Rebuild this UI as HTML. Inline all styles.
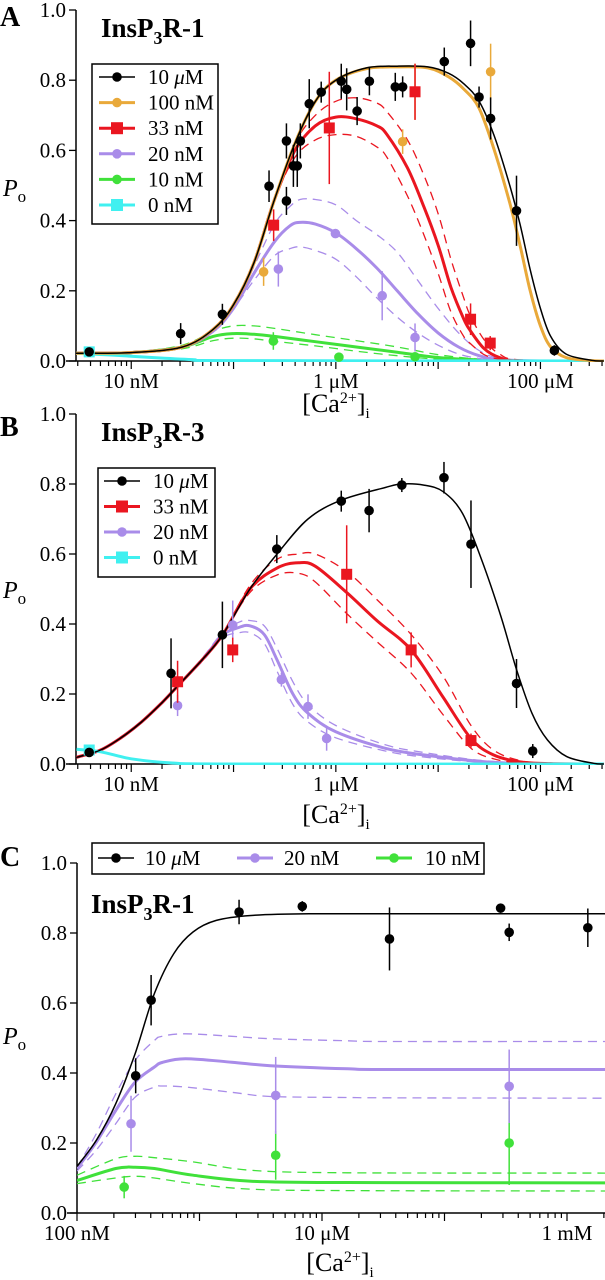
<!DOCTYPE html>
<html><head><meta charset="utf-8">
<style>
html,body{margin:0;padding:0;background:#fff;}
svg{display:block;font-family:"Liberation Serif",serif;}
</style></head>
<body>
<svg id="fig" width="605" height="1280" viewBox="0 0 605 1280" xmlns="http://www.w3.org/2000/svg"></svg>
<script>
// ---------- Panel A data (x = log10 [Ca2+] in M) ----------
const aBlackPtsX=[-8.411,-7.517,-7.109,-6.653,-6.483,-6.483,-6.415,-6.377,-6.347,-6.26,-6.143,-5.947,-5.894,-5.792,-5.672,-5.419,-5.347,-4.94,-4.683,-4.6,-4.487,-4.234,-3.864];
const aBlackPtsY=[0.026,0.078,0.133,0.498,0.456,0.627,0.556,0.556,0.627,0.733,0.766,0.797,0.774,0.712,0.797,0.781,0.781,0.853,0.905,0.752,0.691,0.428,0.030];
const aBlackErr=[0.01,0.03,0.03,0.045,0.04,0.05,0.06,0.06,0.05,0.07,0.03,0.05,0.06,0.04,0.04,0.04,0.03,0.04,0.065,0.03,0.06,0.1,0.015];
const aOrangePtsX=[-6.706,-5.347,-5.226,-4.487];
const aOrangePtsY=[0.254,0.625,0.767,0.824];
const aOrangeErr=[0.04,0.035,0.08,0.08];
const aRedPtsX=[-6.608,-6.064,-5.226,-4.683,-4.491];
const aRedPtsY=[0.387,0.664,0.767,0.119,0.051];
const aRedErr=[0.045,0.16,0.08,0.045,0.02];
const aPurplePtsX=[-6.562,-6.004,-5.547,-5.226];
const aPurplePtsY=[0.262,0.363,0.186,0.067];
const aPurpleErr=[0.05,0.01,0.07,0.04];
const aGreenPtsX=[-6.611,-5.97,-5.226];
const aGreenPtsY=[0.057,0.011,0.012];
const aGreenErr=[0.025,0.01,0.01];
const aCyanPtsX=[-8.411];
const aCyanPtsY=[0.026];

const aBlackFitX=[-8.54,-8.0,-7.5,-7.2,-7.0,-6.8,-6.6,-6.4,-6.2,-6.0,-5.7,-5.4,-5.1,-4.9,-4.75,-4.6,-4.45,-4.3,-4.2,-4.1,-4.0,-3.9,-3.75,-3.5,-3.38];
const aBlackFitY=[0.022,0.024,0.04,0.09,0.16,0.28,0.46,0.62,0.74,0.80,0.835,0.84,0.838,0.82,0.79,0.74,0.64,0.50,0.39,0.26,0.15,0.07,0.02,0.002,0];
const aOrangeFitX=[-8.54,-8.0,-7.5,-7.2,-7.0,-6.8,-6.6,-6.4,-6.2,-6.0,-5.7,-5.4,-5.1,-4.9,-4.75,-4.6,-4.45,-4.3,-4.2,-4.1,-4.0,-3.9,-3.75,-3.5,-3.38];
const aOrangeFitY=[0.022,0.024,0.04,0.09,0.16,0.28,0.46,0.62,0.74,0.80,0.833,0.838,0.835,0.81,0.775,0.72,0.60,0.45,0.33,0.20,0.10,0.04,0.01,0.001,0];
const aRedFitX=[-8.54,-8.0,-7.5,-7.2,-7.0,-6.8,-6.6,-6.4,-6.2,-6.0,-5.8,-5.6,-5.5,-5.3,-5.14,-5.0,-4.875,-4.75,-4.687,-4.55,-4.4,-4.2,-3.38];
const aRedFitY=[0.022,0.024,0.04,0.09,0.16,0.28,0.46,0.60,0.67,0.695,0.69,0.67,0.645,0.55,0.44,0.33,0.21,0.12,0.087,0.035,0.01,0,0];
const aRedHiY=[0.022,0.024,0.04,0.09,0.16,0.28,0.46,0.62,0.70,0.74,0.75,0.735,0.71,0.63,0.53,0.42,0.29,0.18,0.13,0.06,0.02,0.003,0];
const aRedLoY=[0.022,0.024,0.04,0.09,0.16,0.28,0.46,0.58,0.63,0.645,0.64,0.61,0.58,0.47,0.36,0.25,0.14,0.07,0.05,0.018,0.005,0,0];
const aPurpleFitX=[-8.54,-8.0,-7.5,-7.2,-7.0,-6.8,-6.6,-6.45,-6.35,-6.2,-6.0,-5.8,-5.6,-5.4,-5.2,-5.0,-4.8,-4.6,-4.4,-4.0,-3.38];
const aPurpleFitY=[0.022,0.024,0.04,0.085,0.15,0.25,0.34,0.385,0.395,0.39,0.365,0.32,0.265,0.2,0.135,0.08,0.04,0.015,0.004,0,0];
const aPurpleHiY=[0.022,0.024,0.04,0.085,0.15,0.27,0.39,0.44,0.46,0.46,0.445,0.40,0.36,0.31,0.23,0.15,0.08,0.03,0.008,0,0];
const aPurpleLoY=[0.022,0.024,0.04,0.085,0.15,0.23,0.30,0.32,0.325,0.315,0.29,0.24,0.18,0.125,0.08,0.045,0.02,0.007,0.002,0,0];
const aGreenFitX=[-8.54,-8.0,-7.5,-7.2,-7.0,-6.8,-6.6,-6.2,-5.8,-5.4,-5.0,-4.6,-4.2,-3.38];
const aGreenFitY=[0.022,0.024,0.04,0.07,0.078,0.076,0.07,0.055,0.04,0.025,0.01,0.003,0,0];
const aGreenHiY=[0.022,0.025,0.045,0.085,0.10,0.10,0.093,0.075,0.058,0.04,0.018,0.005,0,0];
const aGreenLoY=[0.022,0.023,0.035,0.058,0.065,0.063,0.056,0.043,0.028,0.015,0.005,0.001,0,0];
const aCyanFitX=[-8.54,-8.2,-7.8,-7.4,-7.0,-3.38];
const aCyanFitY=[0.022,0.017,0.01,0.004,0.001,0];

// ---------- Panel B data ----------
const bBlackPtsX=[-8.411,-7.611,-7.109,-6.577,-5.947,-5.675,-5.355,-4.943,-4.679,-4.234,-4.075];
const bBlackPtsY=[0.033,0.259,0.369,0.614,0.751,0.724,0.797,0.818,0.628,0.23,0.037];
const bBlackErr=[0.005,0.1,0.095,0.04,0.03,0.062,0.02,0.045,0.125,0.07,0.02];
const bRedPtsX=[-7.547,-7.008,-5.894,-5.264,-4.679];
const bRedPtsY=[0.235,0.326,0.542,0.326,0.067];
const bRedErr=[0.06,0.035,0.14,0.05,0.02];
const bPurplePtsX=[-7.547,-7.008,-6.532,-6.272,-6.09];
const bPurplePtsY=[0.167,0.397,0.241,0.164,0.073];
const bPurpleErr=[0.03,0.07,0.02,0.035,0.035];
const bCyanPtsX=[-8.411];
const bCyanPtsY=[0.04];

const bBlackFitX=[-8.536,-8.3,-8.1,-7.9,-7.7,-7.555,-7.3,-7.109,-6.84,-6.574,-6.272,-5.947,-5.517,-5.355,-5.14,-4.951,-4.762,-4.574,-4.385,-4.234,-4.083,-3.932,-3.743,-3.479,-3.38];
const bBlackFitY=[0.019,0.04,0.075,0.12,0.175,0.22,0.30,0.368,0.5,0.60,0.70,0.754,0.79,0.80,0.797,0.778,0.716,0.583,0.42,0.27,0.145,0.069,0.021,0.002,0];
const bRedFitX=[-8.536,-8.3,-8.1,-7.9,-7.7,-7.555,-7.3,-7.109,-6.84,-6.574,-6.366,-6.2,-5.894,-5.6,-5.264,-4.95,-4.679,-4.46,-4.2,-3.9,-3.38];
const bRedFitY=[0.019,0.04,0.075,0.12,0.175,0.22,0.30,0.368,0.5,0.56,0.575,0.565,0.49,0.41,0.326,0.19,0.073,0.026,0.006,0.001,0];
const bRedHiY=[0.019,0.04,0.075,0.12,0.175,0.22,0.30,0.368,0.51,0.585,0.60,0.60,0.55,0.47,0.37,0.25,0.11,0.04,0.01,0.001,0];
const bRedLoY=[0.019,0.04,0.075,0.12,0.175,0.22,0.30,0.368,0.49,0.54,0.545,0.52,0.43,0.35,0.26,0.14,0.045,0.015,0.003,0,0];
const bPurpleFitX=[-8.536,-8.3,-8.1,-7.9,-7.7,-7.555,-7.3,-7.109,-6.95,-6.84,-6.7,-6.574,-6.42,-6.272,-6.0,-5.517,-5.14,-4.574,-4.0,-3.38];
const bPurpleFitY=[0.019,0.04,0.075,0.12,0.175,0.22,0.30,0.368,0.39,0.395,0.37,0.297,0.2,0.145,0.092,0.045,0.026,0.007,0,0];
const bPurpleHiY=[0.019,0.04,0.075,0.12,0.175,0.22,0.305,0.375,0.405,0.41,0.395,0.33,0.235,0.17,0.11,0.055,0.033,0.01,0.001,0];
const bPurpleLoY=[0.019,0.04,0.075,0.12,0.175,0.22,0.295,0.36,0.375,0.375,0.345,0.265,0.17,0.12,0.075,0.037,0.02,0.005,0,0];
const bCyanFitX=[-8.536,-8.3,-8.0,-7.6,-7.0,-3.38];
const bCyanFitY=[0.042,0.035,0.015,0.003,0,0];

// ---------- Panel C data ----------
const cBlackPtsX=[-6.521,-6.395,-5.677,-5.161,-4.449,-3.542,-3.472,-2.83];
const cBlackPtsY=[0.392,0.608,0.86,0.876,0.783,0.871,0.802,0.815];
const cBlackErr=[0.05,0.072,0.035,0.015,0.09,0.012,0.025,0.055];
const cPurplePtsX=[-6.559,-5.378,-3.472];
const cPurplePtsY=[0.255,0.336,0.362];
const cPurpleErr=[0.08,0.11,0.105];
const cGreenPtsX=[-6.615,-5.378,-3.472];
const cGreenPtsY=[0.074,0.165,0.2];
const cGreenErr=[0.032,0.07,0.12];

const cBlackFitX=[-7,-6.842,-6.684,-6.526,-6.368,-6.21,-6.053,-5.863,-5.579,-5.105,-4.0,-2.68];
const cBlackFitY=[0.133,0.208,0.312,0.455,0.627,0.741,0.803,0.836,0.85,0.855,0.855,0.855];
const cPurpleFitX=[-7,-6.842,-6.684,-6.526,-6.368,-6.305,-6.116,-5.737,-5.421,-4.79,-4.474,-2.68];
const cPurpleFitY=[0.127,0.203,0.293,0.374,0.417,0.43,0.441,0.431,0.421,0.412,0.41,0.41];
const cPurpleHiY=[0.13,0.227,0.34,0.436,0.493,0.505,0.512,0.505,0.498,0.492,0.49,0.49];
const cPurpleLoY=[0.12,0.18,0.255,0.331,0.36,0.363,0.36,0.345,0.333,0.33,0.329,0.328];
const cGreenFitX=[-7,-6.684,-6.526,-6.368,-6.053,-5.579,-4.79,-2.68];
const cGreenFitY=[0.093,0.127,0.131,0.127,0.108,0.091,0.087,0.086];
const cGreenHiY=[0.108,0.155,0.162,0.158,0.146,0.122,0.115,0.114];
const cGreenLoY=[0.084,0.1,0.105,0.1,0.084,0.068,0.064,0.063];

const yTicks=[0,0.2,0.4,0.6,0.8,1.0];
const yTickLabels=["0.0","0.2","0.4","0.6","0.8","1.0"];
const abTickLogs=[-8,-6,-4];
const abTickLabels=["10 nM","1 \u03bcM","100 \u03bcM"];
const cTickLogs=[-7,-5,-3];
const cTickLabels=["100 nM","10 \u03bcM","1 mM"];

const COL={black:"#000",orange:"#e9a93a",red:"#ea1620",purple:"#a98ce9",green:"#40e13a",cyan:"#40f0f0"};
const NS="http://www.w3.org/2000/svg";
const svg=document.getElementById('fig');
function mk(tag,attrs,parent){const e=document.createElementNS(NS,tag);for(const k in attrs)e.setAttribute(k,attrs[k]);(parent||svg).appendChild(e);return e;}

function smoothPath(xs,ys,sx,sy){
  const p=xs.map((x,i)=>[sx(x),sy(ys[i])]);
  let d="M"+p[0][0].toFixed(1)+","+p[0][1].toFixed(1);
  for(let i=0;i<p.length-1;i++){
    const p0=p[i-1]||p[i],p1=p[i],p2=p[i+1],p3=p[i+2]||p2;
    const c1x=p1[0]+(p2[0]-p0[0])/6,c1y=p1[1]+(p2[1]-p0[1])/6;
    const c2x=p2[0]-(p3[0]-p1[0])/6,c2y=p2[1]-(p3[1]-p1[1])/6;
    d+=" C"+c1x.toFixed(1)+","+c1y.toFixed(1)+" "+c2x.toFixed(1)+","+c2y.toFixed(1)+" "+p2[0].toFixed(1)+","+p2[1].toFixed(1);
  }
  return d;
}

function makePanel(cfg){
  const g=mk('g',{});
  
  
  const sx=v=>cfg.x0+(v-cfg.lmin)*cfg.dec;
  const sy=v=>cfg.y0-v*cfg.h;
  const xEnd=sx(cfg.lmax);
  const ya=mk('line',{x1:cfg.x0,y1:cfg.y0,x2:cfg.x0,y2:sy(1),stroke:"#000","stroke-width":1.5},g);
  
  const xa=mk('line',{x1:cfg.x0-10,y1:cfg.y0,x2:xEnd,y2:cfg.y0,stroke:"#000","stroke-width":1.5},g);
  
  yTicks.forEach((t,i)=>{
    mk('line',{x1:cfg.x0-7,y1:sy(t),x2:cfg.x0,y2:sy(t),stroke:"#000","stroke-width":1.3},g);
    const tx=mk('text',{x:cfg.x0-10,y:sy(t)+7,"text-anchor":"end","font-size":21},g);
    tx.textContent=yTickLabels[i];
    
  });
  for(let d=Math.floor(cfg.lmin);d<=Math.ceil(cfg.lmax);d++){
    for(let m=1;m<10;m++){
      const l=d+Math.log10(m);
      if(l<cfg.lmin-1e-6||l>cfg.lmax)continue;
      const len=m===1?8:5;
      mk('line',{x1:sx(l),y1:cfg.y0,x2:sx(l),y2:cfg.y0+len,stroke:"#000","stroke-width":1.2},g);
    }
  }
  cfg.tickLogs.forEach((l,i)=>{
    const tx=mk('text',{x:sx(l),y:cfg.y0+27,"text-anchor":"middle","font-size":21},g);
    tx.textContent=cfg.tickLabels[i];
    
  });
  const xt=mk('text',{x:cfg.xtX,y:cfg.xtY,"text-anchor":"middle","font-size":26},g);
  xt.innerHTML='[Ca<tspan dy="-9" font-size="16">2+</tspan><tspan dy="9">]</tspan><tspan dy="6" font-size="15">i</tspan>';
  
  const yt=mk('text',{x:3,y:cfg.poY,"font-size":24},g);
  yt.innerHTML='<tspan font-style="italic">P</tspan><tspan dy="6" font-size="17">o</tspan>';
  
  const pl=mk('text',{x:0,y:cfg.letterY,"font-size":28,"font-weight":"bold"},g);
  pl.textContent=cfg.letter;
  
  const ti=mk('text',{x:cfg.titleX,y:cfg.titleY,"font-size":27,"font-weight":"bold"},g);
  ti.innerHTML='InsP<tspan dy="7" font-size="18">3</tspan><tspan dy="-7">R-'+cfg.iso+'</tspan>';
  

  const clip='clip'+cfg.letter;
  const cp=mk('clipPath',{id:clip},g);
  mk('rect',{x:cfg.x0,y:sy(1.05),width:xEnd-cfg.x0,height:cfg.y0-sy(1.05)+1},cp);

  cfg.curves.forEach(c=>{
    const cg=mk('g',{"clip-path":"url(#"+clip+")"},g);
    
    if(c.hi){
      [c.hi,c.lo].forEach((arr,k)=>{
        const pe=mk('path',{d:smoothPath(c.x,arr,sx,sy),fill:"none",stroke:c.col,"stroke-width":1.3,"stroke-dasharray":"9,6"},cg);
        
        
      });
    }
    const pf=mk('path',{d:smoothPath(c.x,c.y,sx,sy),fill:"none",stroke:c.col,"stroke-width":c.w},cg);
    
    
  });
  cfg.points.forEach(s=>{
    const sg=mk('g',{},g);
    
    s.x.forEach((x,i)=>{
      const px=sx(x),py=sy(s.y[i]);
      if(s.err){
        const e=mk('line',{x1:px,y1:sy(s.y[i]+s.err[i]),x2:px,y2:sy(Math.max(0,s.y[i]-s.err[i])),stroke:s.col,"stroke-width":1.5},sg);
        
      }
      let m;
      if(s.sq){m=mk('rect',{x:px-5.5,y:py-5.5,width:11,height:11,fill:s.col},sg);}
      else{m=mk('circle',{cx:px,cy:py,r:4.8,fill:s.col},sg);}
      
    });
  });
}

function legend(items,box,layout,name){
  const g=mk('g',{});
  
  mk('rect',{x:box[0],y:box[1],width:box[2],height:box[3],fill:"#fff",stroke:"#000","stroke-width":1.5},g);
  items.forEach((it,i)=>{
    const [lx,ly,tx]=layout(i);
    const eg=mk('g',{},g);
    
    mk('line',{x1:lx,y1:ly,x2:lx+36,y2:ly,stroke:it.col,"stroke-width":it.col==="#000"?1.5:3},eg);
    if(it.sq)mk('rect',{x:lx+18-6,y:ly-6,width:12,height:12,fill:it.col},eg);
    else mk('circle',{cx:lx+18,cy:ly,r:4.8,fill:it.col},eg);
    const t=mk('text',{x:tx,y:ly+7,"font-size":21},eg);
    t.innerHTML=it.label;
  });
}

makePanel({name:'panel-a',letter:'A',iso:'1',x0:76,y0:361,h:351,lmin:-8.54,lmax:-3.38,dec:102.3,
  tickLogs:abTickLogs,tickLabels:abTickLabels,xtX:336,xtY:412,poY:196,letterY:26,titleX:101,titleY:37,
  curves:[
    {name:'a-10nM',x:aGreenFitX,y:aGreenFitY,hi:aGreenHiY,lo:aGreenLoY,col:COL.green,w:3},
    {name:'a-20nM',x:aPurpleFitX,y:aPurpleFitY,hi:aPurpleHiY,lo:aPurpleLoY,col:COL.purple,w:3},
    {name:'a-33nM',x:aRedFitX,y:aRedFitY,hi:aRedHiY,lo:aRedLoY,col:COL.red,w:3},
    {name:'a-0nM',x:aCyanFitX,y:aCyanFitY,col:COL.cyan,w:3},
    {name:'a-100nM',x:aOrangeFitX,y:aOrangeFitY,col:COL.orange,w:3},
    {name:'a-10uM',x:aBlackFitX,y:aBlackFitY,col:COL.black,w:1.5}],
  points:[
    {name:'a-10nM',x:aGreenPtsX,y:aGreenPtsY,err:aGreenErr,col:COL.green},
    {name:'a-20nM',x:aPurplePtsX,y:aPurplePtsY,err:aPurpleErr,col:COL.purple},
    {name:'a-100nM',x:aOrangePtsX,y:aOrangePtsY,err:aOrangeErr,col:COL.orange},
    {name:'a-33nM',x:aRedPtsX,y:aRedPtsY,err:aRedErr,col:COL.red,sq:true},
    {name:'a-0nM',x:aCyanPtsX,y:aCyanPtsY,col:COL.cyan,sq:true},
    {name:'a-10uM',x:aBlackPtsX,y:aBlackPtsY,err:aBlackErr,col:COL.black}]});

makePanel({name:'panel-b',letter:'B',iso:'3',x0:76,y0:764,h:350,lmin:-8.54,lmax:-3.38,dec:102.3,
  tickLogs:abTickLogs,tickLabels:abTickLabels,xtX:336,xtY:823,poY:598,letterY:436,titleX:101,titleY:441,
  curves:[
    {name:'b-20nM',x:bPurpleFitX,y:bPurpleFitY,hi:bPurpleHiY,lo:bPurpleLoY,col:COL.purple,w:3},
    {name:'b-33nM',x:bRedFitX,y:bRedFitY,hi:bRedHiY,lo:bRedLoY,col:COL.red,w:3},
    {name:'b-0nM',x:bCyanFitX,y:bCyanFitY,col:COL.cyan,w:3},
    {name:'b-10uM',x:bBlackFitX,y:bBlackFitY,col:COL.black,w:1.5}],
  points:[
    {name:'b-20nM',x:bPurplePtsX,y:bPurplePtsY,err:bPurpleErr,col:COL.purple},
    {name:'b-33nM',x:bRedPtsX,y:bRedPtsY,err:bRedErr,col:COL.red,sq:true},
    {name:'b-0nM',x:bCyanPtsX,y:bCyanPtsY,col:COL.cyan,sq:true},
    {name:'b-10uM',x:bBlackPtsX,y:bBlackPtsY,err:bBlackErr,col:COL.black}]});

makePanel({name:'panel-c',letter:'C',iso:'1',x0:77,y0:1213,h:350,lmin:-7,lmax:-2.68,dec:122.5,
  tickLogs:cTickLogs,tickLabels:cTickLabels,xtX:340,xtY:1271,poY:1044,letterY:866,titleX:91,titleY:913,
  curves:[
    {name:'c-10nM',x:cGreenFitX,y:cGreenFitY,hi:cGreenHiY,lo:cGreenLoY,col:COL.green,w:3},
    {name:'c-20nM',x:cPurpleFitX,y:cPurpleFitY,hi:cPurpleHiY,lo:cPurpleLoY,col:COL.purple,w:3},
    {name:'c-10uM',x:cBlackFitX,y:cBlackFitY,col:COL.black,w:1.5}],
  points:[
    {name:'c-10nM',x:cGreenPtsX,y:cGreenPtsY,err:cGreenErr,col:COL.green},
    {name:'c-20nM',x:cPurplePtsX,y:cPurplePtsY,err:cPurpleErr,col:COL.purple},
    {name:'c-10uM',x:cBlackPtsX,y:cBlackPtsY,err:cBlackErr,col:COL.black}]});

const mu='<tspan font-style="italic">\u03bc</tspan>';
legend([
  {label:'10 '+mu+'M',col:COL.black},{label:'100 nM',col:COL.orange},{label:'33 nM',col:COL.red,sq:true},
  {label:'20 nM',col:COL.purple},{label:'10 nM',col:COL.green},{label:'0 nM',col:COL.cyan,sq:true}],
  [92,64,126,160],i=>[99,77+i*25.6,148],'legend-a');
legend([
  {label:'10 '+mu+'M',col:COL.black},{label:'33 nM',col:COL.red,sq:true},
  {label:'20 nM',col:COL.purple},{label:'0 nM',col:COL.cyan,sq:true}],
  [98,468,117,109],i=>[104,481+i*25.5,153],'legend-b');
legend([
  {label:'10 '+mu+'M',col:COL.black},{label:'20 nM',col:COL.purple},{label:'10 nM',col:COL.green}],
  [92,843,392,31],i=>[[98,237,376][i],858,[145,284,425][i]],'legend-c');
</script>
</body></html>
